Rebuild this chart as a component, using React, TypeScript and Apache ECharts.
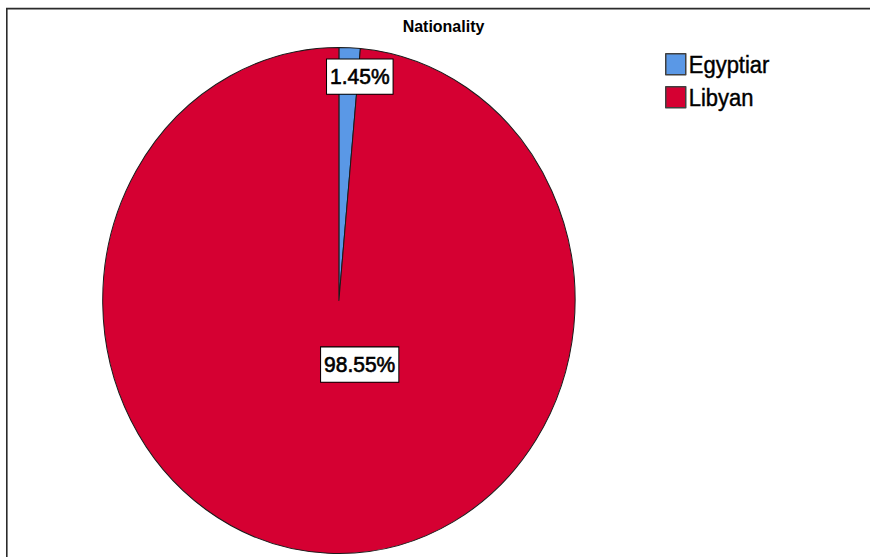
import React, { useEffect, useRef } from "react";
import * as echarts from "echarts";

const categories = ["Egyptiar", "Libyan"];
const percentages = [1.45, 98.55];
const sliceColors = ["#5A98E6", "#D50032"];
const titleText = "Nationality";

// label anchor points (unscaled chart coords)
const labelAnchors = [
  [359.8, 71.5],
  [359.7, 340.3],
];

const STRETCH = 1.0712;
const W = 870;
const H = 520;

export default function App() {
  const ref = useRef<HTMLDivElement>(null);

  useEffect(() => {
    document.body.style.margin = "0";
    if (!ref.current) return;
    const chart = echarts.init(ref.current, undefined, { renderer: "svg" });
    const data = categories.map((name, i) => ({
      name,
      value: percentages[i],
      itemStyle: { color: sliceColors[i] },
    }));
    chart.setOption({
      animation: false,
      backgroundColor: "#ffffff",
      title: {
        text: titleText,
        left: 443.5,
        top: 17,
        textAlign: "center",
        padding: 0,
        textStyle: {
          fontFamily: "Liberation Sans, Arial, sans-serif",
          fontSize: 16,
          fontWeight: "bold",
          color: "#000",
        },
      },
      legend: {
        orient: "vertical",
        left: 665,
        top: 48.8,
        itemWidth: 20,
        itemHeight: 19.6,
        itemGap: 8.4,
        icon: "rect",
        selectedMode: false,
        padding: 0,
        itemStyle: { borderColor: "#404040", borderWidth: 1.5 },
        textStyle: {
          fontFamily: "Liberation Sans, Arial, sans-serif",
          fontSize: 22,
          color: "#000",
          textBorderColor: "#000",
          textBorderWidth: 0.4,
          padding: [0, 0, 0, -2],
        },
        data: categories,
      },
      graphic: [
        {
          type: "rect",
          silent: true,
          shape: { x: 6.8, y: 8, width: 1000, height: 1000 },
          style: { fill: "none", stroke: "#2b2b2b", lineWidth: 1.6 },
        },
      ],
      series: [
        {
          type: "pie",
          center: [338.9, 280.5],
          radius: 236.2,
          startAngle: 90,
          clockwise: true,
          silent: true,
          avoidLabelOverlap: false,
          itemStyle: { borderColor: "#1a1a1a", borderWidth: 1 },
          emphasis: { disabled: true },
          labelLine: { show: false },
          label: {
            show: true,
            position: "inside",
            formatter: (p: any) => Number(p.value).toFixed(2) + "%",
            fontFamily: "Liberation Sans, Arial, sans-serif",
            fontSize: 21,
            fontWeight: "normal",
            color: "#000",
            textBorderColor: "#000",
            textBorderWidth: 0.6,
            backgroundColor: "#ffffff",
            borderColor: "#000",
            borderWidth: 1,
            padding: [6, 3, 5, 3],
          },
          labelLayout: (p: any) => ({
            x: labelAnchors[p.dataIndex][0],
            y: labelAnchors[p.dataIndex][1],
            align: "center",
            verticalAlign: "middle",
          }),
          data,
        },
      ],
    });
    return () => chart.dispose();
  }, []);

  return (
    <div style={{ width: W, height: 557, overflow: "hidden", position: "relative" }}>
      <div
        ref={ref}
        style={{
          width: W,
          height: H,
          transform: `scaleY(${STRETCH})`,
          transformOrigin: "0 0",
        }}
      />
    </div>
  );
}
